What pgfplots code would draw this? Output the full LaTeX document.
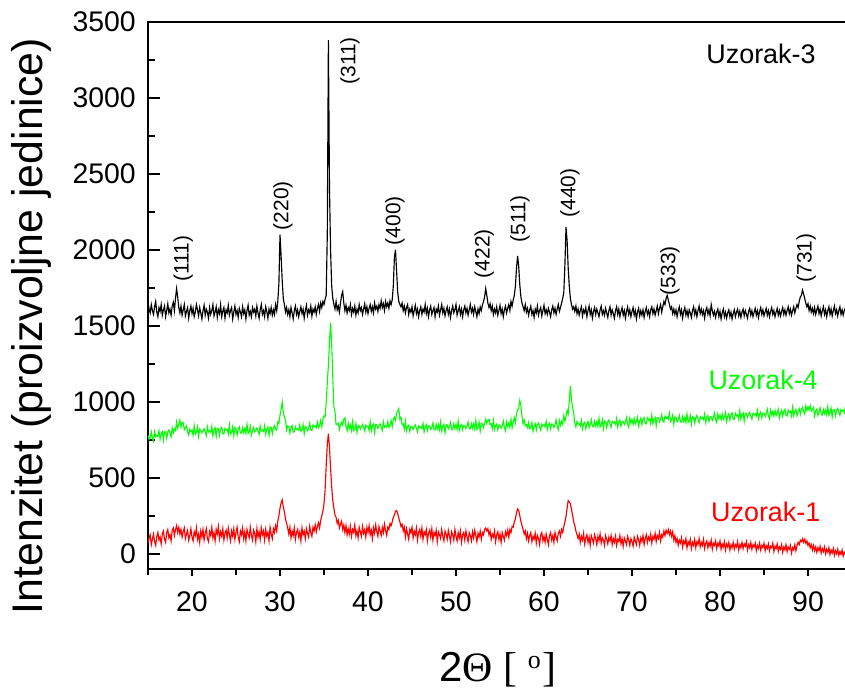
\documentclass[border=0pt]{standalone}
\usepackage{pgfplots}
\pgfplotsset{compat=1.18}
\usepackage{pgfplotstable}
\usepackage{fontspec}
\setmainfont{Liberation Sans}
\newfontfamily\seriffont{Liberation Serif}
\pgfplotstableread{
x r g b
15.000 70 780 1655
15.125 105 752 1610
15.250 125 765 1585
15.375 60 803 1640
15.500 95 760 1600
15.625 130 741 1575
15.750 80 804 1625
15.875 55 771 1660
16.000 115 778 1590
16.125 140 771 1560
16.250 90 810 1620
16.375 110 754 1595
16.500 65 790 1640
16.625 130 804 1570
16.750 150 748 1605
16.875 95 804 1630
17.000 75 801 1560
17.125 140 760 1600
17.250 160 803 1645
17.375 105 815 1585
17.500 125 792 1610
17.625 85 769 1570
17.750 155 828 1630
17.875 170 795 1655
18.000 120 824 1600
18.125 160 811 1680
18.250 185 868 1745
18.375 140 826 1690
18.500 175 852 1620
18.625 130 880 1585
18.750 160 832 1630
18.875 110 866 1570
19.000 145 863 1605
19.125 170 816 1640
19.250 100 831 1565
19.375 130 843 1595
19.500 155 802 1620
19.625 90 781 1550
19.750 120 820 1600
19.875 165 805 1630
20.000 110 814 1580
20.125 85 781 1615
20.250 145 842 1560
20.375 120 786 1590
20.500 170 798 1640
20.625 95 834 1605
20.750 130 772 1565
20.875 75 820 1620
21.000 150 811 1585
21.125 110 796 1545
21.250 160 809 1600
21.375 90 823 1635
21.500 135 802 1570
21.625 165 777 1610
21.750 100 836 1590
21.875 80 801 1550
22.000 145 810 1620
22.125 120 799 1575
22.250 175 838 1600
22.375 105 776 1640
22.500 140 818 1565
22.625 85 830 1590
22.750 160 772 1625
22.875 130 826 1555
23.000 180 821 1605
23.125 100 778 1580
23.250 145 823 1640
23.375 115 833 1560
23.500 165 790 1595
23.625 90 789 1620
23.750 135 826 1550
23.875 155 815 1605
24.000 105 820 1585
24.125 170 787 1635
24.250 125 848 1570
24.375 85 788 1600
24.500 150 800 1620
24.625 115 836 1545
24.750 165 776 1590
24.875 95 830 1630
25.000 140 823 1575
25.125 175 780 1600
25.250 110 823 1555
25.375 80 835 1615
25.500 150 794 1590
25.625 125 795 1560
25.750 170 830 1625
25.875 100 797 1580
26.000 145 826 1605
26.125 85 793 1545
26.250 160 852 1600
26.375 130 792 1635
26.500 105 804 1570
26.625 175 838 1595
26.750 120 780 1560
26.875 90 810 1620
27.000 155 831 1590
27.125 135 802 1610
27.250 80 813 1565
27.375 165 827 1630
27.500 110 808 1585
27.625 145 785 1550
27.750 95 842 1605
27.875 170 807 1640
28.000 125 814 1575
28.125 150 805 1600
28.250 90 842 1560
28.375 160 786 1625
28.500 115 822 1595
28.625 140 834 1550
28.750 85 778 1610
28.875 175 834 1580
29.000 130 831 1620
29.125 100 790 1570
29.250 165 831 1605
29.375 140 843 1575
29.500 185 820 1640
29.625 150 813 1600
29.750 215 868 1660
29.875 250 857 1780
30.000 300 910 2100
30.125 335 950 1960
30.250 355 1000 1800
30.375 310 930 1680
30.500 275 900 1640
30.625 230 882 1590
30.750 200 815 1620
30.875 170 842 1575
31.000 130 837 1605
31.125 175 794 1560
31.250 105 831 1620
31.375 150 843 1585
31.500 120 800 1545
31.625 170 803 1600
31.750 95 836 1630
31.875 140 819 1575
32.000 160 822 1605
32.125 110 813 1560
32.250 145 848 1595
32.375 85 806 1625
32.500 170 814 1580
32.625 125 850 1610
32.750 150 790 1550
32.875 100 838 1600
33.000 165 831 1635
33.125 135 810 1570
33.250 110 827 1605
33.375 180 859 1585
33.500 140 816 1630
33.625 115 811 1565
33.750 175 848 1610
33.875 150 835 1590
34.000 190 842 1625
34.125 145 829 1575
34.250 180 866 1615
34.375 205 830 1640
34.500 170 844 1595
34.625 220 878 1650
34.750 250 836 1620
34.875 280 888 1660
35.000 330 907 1640
35.125 420 900 1675
35.250 580 995 1700
35.375 720 1125 2100
35.500 790 1240 3380
35.625 700 1395 2400
35.750 560 1520 1990
35.875 440 1375 1760
36.000 350 1160 1680
36.125 300 965 1640
36.250 255 935 1610
36.375 240 850 1660
36.500 200 852 1605
36.625 220 860 1630
36.750 170 818 1590
36.875 195 846 1650
37.000 215 865 1700
37.125 160 846 1725
37.250 190 885 1650
37.375 140 895 1600
37.500 185 838 1635
37.625 125 811 1585
37.750 165 862 1620
37.875 130 823 1600
38.000 180 848 1640
38.125 115 811 1575
38.250 160 870 1615
38.375 140 810 1590
38.500 190 822 1630
38.625 120 858 1570
38.750 150 798 1610
38.875 105 846 1585
39.000 175 839 1640
39.125 145 820 1600
39.250 115 835 1620
39.375 180 851 1575
39.500 135 832 1610
39.625 160 807 1645
39.750 110 846 1590
39.875 175 835 1625
40.000 140 842 1580
40.125 185 811 1615
40.250 125 870 1640
40.375 155 810 1595
40.500 100 844 1625
40.625 170 854 1585
40.750 135 798 1650
40.875 190 852 1610
41.000 145 849 1630
41.125 115 826 1595
41.250 180 841 1640
41.375 150 855 1615
41.500 120 834 1665
41.625 175 811 1620
41.750 140 868 1645
41.875 195 833 1600
42.000 150 842 1660
42.125 120 833 1625
42.250 175 870 1650
42.375 160 832 1615
42.500 200 846 1665
42.625 185 878 1640
42.750 210 836 1670
42.875 240 886 1760
43.000 255 899 1950
43.125 280 878 2000
43.250 285 925 1860
43.375 265 940 1720
43.500 235 955 1660
43.625 210 885 1640
43.750 180 898 1625
43.875 195 851 1650
44.000 150 856 1600
44.125 175 819 1630
44.250 110 872 1585
44.375 165 810 1620
44.500 130 838 1640
44.625 95 846 1575
44.750 160 806 1610
44.875 140 838 1590
45.000 175 837 1625
45.125 105 818 1565
45.250 150 835 1600
45.375 125 849 1635
45.500 170 826 1580
45.625 90 803 1610
45.750 140 840 1560
45.875 160 829 1600
46.000 115 836 1625
46.125 170 823 1575
46.250 95 858 1610
46.375 145 802 1590
46.500 125 836 1640
46.625 160 850 1580
46.750 85 810 1615
46.875 135 842 1560
47.000 155 839 1605
47.125 110 818 1630
47.250 165 833 1575
47.375 90 861 1600
47.500 140 816 1620
47.625 120 815 1560
47.750 155 852 1610
47.875 80 821 1590
48.000 145 850 1630
48.125 125 815 1570
48.250 100 868 1605
48.375 160 808 1640
48.500 115 842 1585
48.625 85 852 1615
48.750 150 796 1565
48.875 130 850 1600
49.000 95 847 1625
49.125 155 822 1575
49.250 120 835 1610
49.375 80 863 1555
49.500 145 818 1600
49.625 125 817 1630
49.750 90 854 1585
49.875 160 823 1605
50.000 115 852 1640
50.125 85 819 1570
50.250 140 874 1600
50.375 105 812 1625
50.500 150 840 1575
50.625 75 850 1610
50.750 125 816 1560
50.875 140 846 1605
51.000 90 845 1630
51.125 150 824 1585
51.250 110 839 1615
51.375 80 867 1570
51.500 140 822 1605
51.625 120 821 1640
51.750 85 856 1590
51.875 145 825 1615
52.000 105 854 1575
52.125 155 821 1625
52.250 120 878 1595
52.375 80 818 1560
52.500 135 832 1610
52.625 110 866 1580
52.750 150 808 1625
52.875 95 858 1600
53.000 140 855 1635
53.125 125 830 1660
53.250 160 861 1690
53.375 170 887 1745
53.500 150 858 1700
53.625 165 880 1650
53.750 125 885 1620
53.875 150 851 1645
54.000 95 856 1600
54.125 130 823 1630
54.250 110 878 1575
54.375 150 818 1610
54.500 80 844 1585
54.625 125 854 1625
54.750 145 816 1570
54.875 95 848 1600
55.000 130 847 1635
55.125 75 826 1580
55.250 140 841 1610
55.375 115 873 1560
55.500 90 830 1605
55.625 145 809 1630
55.750 120 868 1585
55.875 155 837 1615
56.000 110 862 1640
56.125 160 831 1600
56.250 140 886 1660
56.375 180 830 1630
56.500 175 864 1670
56.625 210 896 1700
56.750 230 862 1760
56.875 270 920 1880
57.000 295 950 1960
57.125 285 955 1890
57.250 250 1010 1770
57.375 215 975 1690
57.500 185 905 1650
57.625 160 855 1625
57.750 130 880 1600
57.875 150 843 1640
58.000 100 850 1590
58.125 135 831 1615
58.250 85 864 1570
58.375 120 822 1605
58.500 140 832 1630
58.625 80 864 1575
58.750 115 806 1600
58.875 95 838 1555
59.000 135 857 1610
59.125 70 814 1585
59.250 120 849 1630
59.375 100 861 1570
59.500 60 836 1600
59.625 125 813 1620
59.750 140 852 1565
59.875 85 841 1600
60.000 115 850 1635
60.125 75 835 1580
60.250 130 872 1605
60.375 95 816 1575
60.500 60 848 1615
60.625 120 860 1590
60.750 140 822 1560
60.875 90 854 1605
61.000 120 853 1630
61.125 75 832 1585
61.250 140 849 1615
61.375 110 881 1575
61.500 85 838 1610
61.625 135 817 1640
61.750 150 876 1595
61.875 115 845 1620
62.000 160 872 1650
62.125 140 853 1680
62.250 180 910 1720
62.375 210 872 1900
62.500 245 905 2150
62.625 300 945 2060
62.750 350 920 1880
62.875 340 1010 1760
63.000 330 1105 1680
63.125 290 1010 1640
63.250 255 965 1610
63.375 210 925 1625
63.500 185 862 1595
63.625 150 835 1630
63.750 125 870 1580
63.875 100 853 1610
64.000 130 856 1570
64.125 75 841 1600
64.250 115 878 1625
64.375 90 822 1565
64.500 135 856 1605
64.625 65 866 1585
64.750 105 824 1620
64.875 125 854 1560
65.000 75 871 1600
65.125 110 830 1630
65.250 55 851 1575
65.375 120 883 1605
65.500 95 838 1550
65.625 70 835 1595
65.750 125 872 1620
65.875 100 841 1575
66.000 60 870 1610
66.125 115 837 1585
66.250 85 892 1560
66.375 130 834 1605
66.500 70 848 1630
66.625 105 882 1575
66.750 90 824 1600
66.875 55 874 1570
67.000 120 871 1615
67.125 95 830 1585
67.250 65 869 1555
67.375 110 881 1600
67.500 85 856 1625
67.625 120 833 1570
67.750 60 872 1605
67.875 100 861 1580
68.000 75 868 1550
68.125 115 853 1600
68.250 55 890 1625
68.375 95 834 1575
68.500 80 868 1610
68.625 120 880 1560
68.750 65 840 1595
68.875 100 872 1620
69.000 50 871 1570
69.125 105 850 1600
69.250 85 869 1550
69.375 60 897 1595
69.500 115 854 1625
69.625 90 833 1575
69.750 55 892 1605
69.875 100 861 1560
70.000 80 886 1595
70.125 50 851 1620
70.250 110 890 1570
70.375 85 854 1600
70.500 60 868 1545
70.625 115 898 1590
70.750 95 840 1615
70.875 55 874 1565
71.000 105 893 1600
71.125 80 850 1570
71.250 120 885 1605
71.375 60 897 1555
71.500 100 856 1595
71.625 125 855 1620
71.750 75 894 1575
71.875 110 879 1600
72.000 90 886 1560
72.125 130 855 1605
72.250 70 914 1625
72.375 115 856 1580
72.500 95 886 1610
72.625 135 898 1570
72.750 80 842 1600
72.875 120 896 1630
73.000 100 895 1580
73.125 140 868 1615
73.250 85 885 1640
73.375 125 915 1590
73.500 110 872 1625
73.625 150 867 1660
73.750 120 906 1640
73.875 155 891 1680
74.000 135 900 1700
74.125 160 885 1670
74.250 125 926 1640
74.375 150 870 1610
74.500 115 884 1625
74.625 145 912 1580
74.750 90 852 1610
74.875 120 900 1575
75.000 75 895 1605
75.125 100 868 1560
75.250 55 883 1600
75.375 90 911 1625
75.500 70 870 1575
75.625 105 865 1605
75.750 45 902 1550
75.875 85 871 1595
76.000 65 898 1620
76.125 100 865 1570
76.250 40 920 1600
76.375 80 864 1560
76.500 60 878 1605
76.625 95 910 1585
76.750 35 852 1555
76.875 75 902 1600
77.000 55 899 1625
77.125 95 860 1575
77.250 40 897 1605
77.375 80 911 1560
77.500 60 886 1600
77.625 100 863 1630
77.750 45 902 1580
77.875 75 889 1610
78.000 55 898 1575
78.125 95 883 1600
78.250 35 920 1550
78.375 70 864 1600
78.500 85 896 1620
78.625 40 910 1575
78.750 75 870 1605
78.875 50 902 1565
79.000 90 901 1640
79.125 30 878 1600
79.250 70 897 1570
79.375 55 927 1595
79.500 85 884 1555
79.625 35 863 1590
79.750 70 920 1610
79.875 50 889 1560
80.000 85 914 1595
80.125 30 881 1545
80.250 65 920 1585
80.375 45 884 1610
80.500 80 898 1560
80.625 25 928 1590
80.750 65 870 1550
80.875 45 904 1585
81.000 75 921 1605
81.125 25 880 1560
81.250 60 915 1590
81.375 40 927 1545
81.500 75 886 1580
81.625 30 885 1605
81.750 60 924 1560
81.875 45 907 1590
82.000 80 916 1610
82.125 25 885 1565
82.250 60 942 1595
82.375 40 886 1555
82.500 75 916 1590
82.625 35 928 1610
82.750 65 872 1565
82.875 50 924 1600
83.000 80 923 1575
83.125 25 898 1550
83.250 60 917 1595
83.375 40 931 1615
83.500 75 908 1570
83.625 30 885 1600
83.750 60 924 1560
83.875 45 913 1590
84.000 70 922 1615
84.125 20 907 1570
84.250 55 944 1600
84.375 35 888 1555
84.500 70 920 1595
84.625 25 934 1620
84.750 55 894 1575
84.875 40 926 1605
85.000 70 925 1565
85.125 20 902 1590
85.250 55 921 1615
85.375 35 951 1570
85.500 65 908 1600
85.625 20 887 1560
85.750 50 946 1595
85.875 40 915 1620
86.000 70 938 1575
86.125 15 905 1600
86.250 50 944 1560
86.375 35 908 1590
86.500 65 922 1615
86.625 15 950 1570
86.750 45 894 1600
86.875 30 928 1565
87.000 60 945 1595
87.125 10 904 1620
87.250 45 937 1575
87.375 25 951 1605
87.500 60 910 1570
87.625 15 907 1600
87.750 45 946 1625
87.875 30 929 1580
88.000 55 938 1610
88.125 5 907 1570
88.250 40 964 1600
88.375 25 908 1625
88.500 60 936 1585
88.625 20 950 1615
88.750 55 908 1640
88.875 75 942 1620
89.000 60 955 1660
89.125 90 916 1690
89.250 80 949 1700
89.375 100 965 1735
89.500 75 938 1710
89.625 95 919 1680
89.750 70 972 1650
89.875 85 943 1625
90.000 55 968 1645
90.125 70 947 1600
90.250 40 975 1630
90.375 60 938 1590
90.500 25 950 1615
90.625 55 964 1580
90.750 20 906 1620
90.875 45 940 1575
91.000 10 953 1605
91.125 40 910 1630
91.250 20 931 1580
91.375 50 961 1610
91.500 5 918 1565
91.625 35 913 1600
91.750 15 950 1625
91.875 45 921 1575
92.000 0 946 1605
92.125 30 915 1560
92.250 10 970 1600
92.375 40 912 1625
92.500 -5 926 1575
92.625 25 958 1610
92.750 5 900 1565
92.875 35 950 1600
93.000 -10 949 1630
93.125 20 908 1580
93.250 0 945 1605
93.375 30 957 1565
93.500 -10 932 1600
93.625 15 911 1625
93.750 -5 950 1575
93.875 25 937 1605
94.000 -15 946 1570
94.125 10 929 1600
94.250 -5 968 1620
}\xrd

\begin{document}
\begin{tikzpicture}
\begin{axis}[name=ax, at={(0,0)}, anchor=south west,
  x=8.8bp, y=0.152bp,
  xmin=15, xmax=94.6, ymin=-100, ymax=3500,
  axis line style={line width=2.4bp},
  xtick={20,30,...,90}, minor xtick={15,25,...,95},
  ytick={0,500,...,3500}, minor ytick={250,750,...,3250},
  tick pos=left,
  xtick align=outside, ytick align=inside,
  xtick style={line width=1.6bp, black, /pgfplots/major tick length=7bp, /pgfplots/minor tick length=6bp},
  ytick style={line width=1.6bp, black, /pgfplots/major tick length=12bp, /pgfplots/minor tick length=7bp},
  ticklabel style={font=\fontsize{28.5}{28.5}\selectfont},
  /pgf/number format/assume math mode=true,
  /pgf/number format/set thousands separator={},
  yticklabel style={inner sep=0pt, xshift=-12bp},
  xticklabel style={inner sep=0pt, yshift=-18bp},
  xlabel={2{\seriffont Θ [ \raisebox{13bp}{\fontsize{26}{26}\selectfont o}\kern2bp]}},
  xlabel style={font=\fontsize{42}{42}\selectfont, at={(rel axis cs:0.5,0)}, anchor=base, yshift=-112bp},
  ylabel={Intenzitet (proizvoljne jedinice)},
  ylabel style={font=\fontsize{43}{43}\selectfont, at={(rel axis cs:0,0.444)}, anchor=center, yshift=117bp},
  clip mode=individual,
]
\addplot[red, line width=1.15bp] table[x=x, y=r] {\xrd};
\addplot[green, line width=1.1bp] table[x=x, y=g] {\xrd};
\addplot[black, line width=1.15bp] table[x=x, y=b] {\xrd};

\begin{scope}[every node/.style={rotate=90, font=\fontsize{21}{21}\selectfont, inner sep=0pt}]
\node at (axis cs:19.0,1941) {(111)};
\node at (axis cs:30.34,2290) {(220)};
\node at (axis cs:37.95,3243) {(311)};
\node at (axis cs:43.07,2191) {(400)};
\node at (axis cs:53.2,1974) {(422)};
\node at (axis cs:57.27,2204) {(511)};
\node at (axis cs:62.95,2375) {(440)};
\node at (axis cs:74.3,1862) {(533)};
\node at (axis cs:89.8,1947) {(731)};
\end{scope}
\node[font=\fontsize{27}{27}\selectfont, inner sep=0pt] at (axis cs:84.66,3289) {Uzorak-3};
\node[font=\fontsize{27}{27}\selectfont, inner sep=0pt, text=green] at (axis cs:84.9,1145) {Uzorak-4};
\node[font=\fontsize{27}{27}\selectfont, inner sep=0pt, text=red] at (axis cs:85.2,276) {Uzorak-1};
\end{axis}
\pgfresetboundingbox
\path[use as bounding box] (ax.south west) ++(-148bp,-121bp) rectangle ++(845bp,690bp);
\end{tikzpicture}
\end{document}
